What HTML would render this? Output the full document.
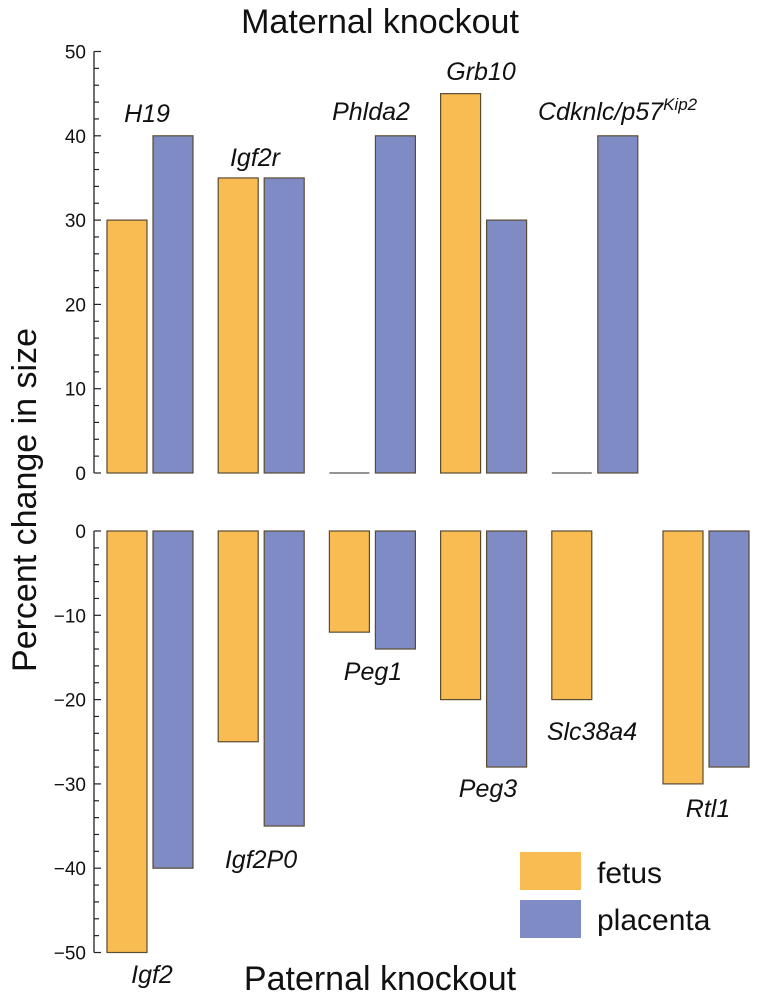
<!DOCTYPE html>
<html><head><meta charset="utf-8"><style>
body{margin:0;background:#fff}
text{font-family:"Liberation Sans",Arial,sans-serif;fill:#111}
</style></head><body>
<svg id="chart" width="760" height="1000" xmlns="http://www.w3.org/2000/svg">
<text x="380" y="33" font-size="34" text-anchor="middle">Maternal knockout</text>
<text x="380" y="990" font-size="34" text-anchor="middle">Paternal knockout</text>
<text transform="translate(36,500) rotate(-90)" font-size="34" text-anchor="middle">Percent change in size</text>
<g id="legend">
<rect x="520" y="852" width="61" height="38" fill="#F9BC52"/>
<text x="597" y="883" font-size="30">fetus</text>
<rect x="520" y="900" width="61" height="38" fill="#7F8BC4"/>
<text x="597" y="930" font-size="30">placenta</text>
</g>
</svg>
<script>
const topGenes=["H19","Igf2r","Phlda2","Grb10","Cdkn1c",""];
const topFetus=[30,35,0,45,0,null];
const topPlacenta=[40,35,40,30,40,null];
const botGenes=["Igf2","Igf2P0","Peg1","Peg3","Slc38a4","Rtl1"];
const botFetus=[-50,-25,-12,-20,-20,-30];
const botPlacenta=[-40,-35,-14,-28,null,-28];
const topTicks=[0,10,20,30,40,50];
const botTicks=[0,-10,-20,-30,-40,-50];

const NS="http://www.w3.org/2000/svg";
const svg=document.getElementById('chart');
function mk(t,a,txt){const e=document.createElementNS(NS,t);for(const k in a)e.setAttribute(k,a[k]);if(txt!==undefined)e.textContent=txt;svg.appendChild(e);return e;}
const AX=94, PX=8.43;
const yTop=v=>473-v*PX;
const yBot=v=>531-v*PX;
const xG=i=>107+i*111.2;

function axis(scale,ticks,lo,hi,name){
  const l=mk('line',{x1:AX,x2:AX,y1:scale(lo),y2:scale(hi),stroke:'#222','stroke-width':1.3});
  
  
  for(let v=lo;v<=hi;v+=2){
    const major=v%10===0;
    const t=mk('line',{x1:AX,x2:AX+(major?7:5),y1:scale(v),y2:scale(v),stroke:'#222','stroke-width':1.2});
    
    
  }
  ticks.forEach(v=>{
    const s=v<0?'\u2212'+(-v):String(v);
    const t=mk('text',{x:AX-8,y:scale(v)+7,'font-size':19,'text-anchor':'end'},s);
    
    
  });
}
axis(yTop,topTicks,0,50,'top-y-axis');
axis(yBot,botTicks,-50,0,'bottom-y-axis');

function bars(scale,vals,off,color,name){
  vals.forEach((v,i)=>{
    if(v===null)return;
    const x=xG(i)+off;
    if(v===0){
      const l=mk('line',{x1:x,x2:x+40,y1:scale(0),y2:scale(0),stroke:'#555','stroke-width':1.2});
      
      
      return;
    }
    const y0=scale(0),y1=scale(v);
    const r=mk('rect',{x:x,y:Math.min(y0,y1),width:40,height:Math.abs(y1-y0),fill:color,stroke:'#5b4b33','stroke-width':1.2});
    
    
  });
}
bars(yTop,topFetus,0,'#F9BC52','top-bar-fetus');
bars(yTop,topPlacenta,46,'#7F8BC4','top-bar-placenta');
bars(yBot,botFetus,0,'#F9BC52','bottom-bar-fetus');
bars(yBot,botPlacenta,46,'#7F8BC4','bottom-bar-placenta');

[[0,147,122],[1,255,166],[2,371,120],[3,481,80]].forEach(([i,x,y])=>{
  const t=mk('text',{x:x,y:y,'font-size':25,'font-style':'italic','text-anchor':'middle'},topGenes[i]);
  
  
});
const ck=mk('text',{x:538,y:120,'font-size':25,'font-style':'italic'});


ck.innerHTML='Cdknlc/p57<tspan dy="-10" font-size="17">Kip2</tspan>';
[[0,152,983],[1,261,868],[2,373,680],[3,488,797],[4,592,740],[5,708,817]].forEach(([i,x,y])=>{
  const t=mk('text',{x:x,y:y,'font-size':25,'font-style':'italic','text-anchor':'middle'},botGenes[i]);
  
  
});
</script>
</body></html>
